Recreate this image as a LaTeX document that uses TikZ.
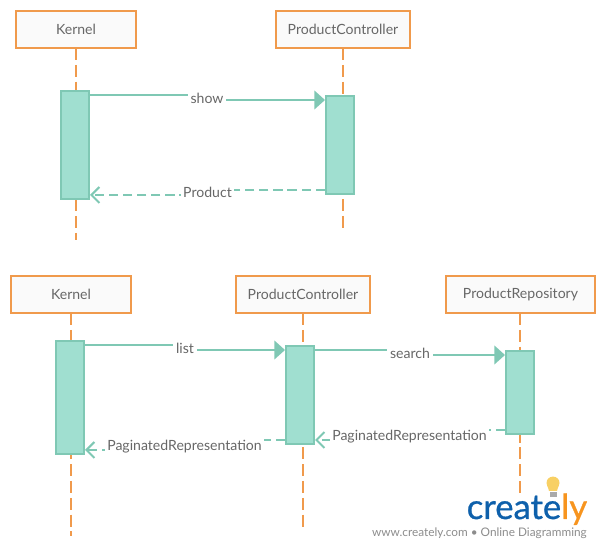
\documentclass[tikz,border=0pt]{standalone}
\usepackage{fontspec}
\setmainfont{Lato}
\newfontfamily\logofont[FakeBold=0.8]{Lato}
\usetikzlibrary{arrows.meta,backgrounds}
\definecolor{lifeorange}{RGB}{240,154,76}
\definecolor{barteal}{RGB}{160,223,208}
\definecolor{lineteal}{RGB}{127,200,180}
\definecolor{labelgray}{RGB}{103,103,103}
\definecolor{logoblue}{RGB}{14,96,171}
\definecolor{logoorange}{RGB}{247,148,30}
\tikzset{
  headbox/.style={draw=lifeorange,line width=1.5pt,fill={rgb,255:red,250;green,250;blue,250},text=labelgray,inner sep=0pt,font=\fontsize{10.55}{12}\selectfont},
  lifeline/.style={draw=lifeorange,line width=1.5pt,dash pattern=on 9pt off 3.6pt},
  activebar/.style={draw=lineteal,line width=1.5pt,fill=barteal},
  msgcall/.style={draw=lineteal,line width=1.5pt,-{Triangle[length=8pt,width=14pt]}},
  msgreturn/.style={draw=lineteal,line width=1.5pt,dash pattern=on 7pt off 3.6pt,-{Straight Barb[length=6pt,width=12pt]}},
  msglabel/.style={fill=white,text=labelgray,inner sep=2pt,font=\fontsize{10.55}{12}\selectfont},
}
\begin{document}
\begin{tikzpicture}[x=0.75pt,y=0.75pt,yscale=-1,xscale=1]
    \useasboundingbox (0,0) rectangle (601,549);

    % Top diagram lifelines
    \coordinate (kernelTopStart) at (75.5,48);
    \coordinate (kernelTopEnd) at (75.5,240);
    \coordinate (controllerTopStart) at (342.5,48);
    \coordinate (controllerTopEnd) at (342.5,228);
    \draw [lifeline] (kernelTopStart) -- (kernelTopEnd);
    \draw [lifeline] (controllerTopStart) -- (controllerTopEnd);

    % Head boxes
    \node (kernelTop) [headbox,minimum width=90pt,minimum height=27.75pt] at (76,29.5) {Kernel};
    \node (controllerTop) [headbox,minimum width=100.5pt,minimum height=27.75pt] at (343,29.5) {ProductController};

    % Activation bars
    \node (kernelTopBar) [activebar,inner sep=0pt,minimum width=21pt,minimum height=81pt] at (75,145) {};
    \node (controllerTopBar) [activebar,inner sep=0pt,minimum width=21pt,minimum height=73.5pt] at (340,145) {};

    % Message labels
    \node (showLabel) [msglabel] at (207,98) {show};
    \node (productLabel) [msglabel] at (207.5,192.5) {Product};
    \begin{scope}[on background layer]
      \draw [msgcall] (kernelTopBar.east |- 0,95) -| (showLabel.center) |- (controllerTopBar.west |- 0,100);
      \draw [msgreturn] (controllerTopBar.west |- 0,190) -| (productLabel.center) |- (kernelTopBar.east |- 0,195);
    \end{scope}

    % Bottom diagram lifelines
    \coordinate (kernelLowStart) at (71,313);
    \coordinate (kernelLowEnd) at (71,536);
    \coordinate (controllerLowStart) at (303,313);
    \coordinate (controllerLowEnd) at (303,527);
    \coordinate (repositoryLowStart) at (520,313);
    \coordinate (repositoryLowEnd) at (520,495);
    \draw [lifeline] (kernelLowStart) -- (kernelLowEnd);
    \draw [lifeline] (controllerLowStart) -- (controllerLowEnd);
    \draw [lifeline] (repositoryLowStart) -- (repositoryLowEnd);

    % Head boxes
    \node (kernelLow) [headbox,minimum width=90pt,minimum height=27.75pt] at (71,294.5) {Kernel};
    \node (controllerLow) [headbox,minimum width=100.5pt,minimum height=27.75pt] at (303,294.5) {ProductController};
    \node (repositoryLow) [headbox,minimum width=111.75pt,minimum height=27.75pt] at (520.5,294.5) {ProductRepository};

    % Activation bars
    \node (kernelLowBar) [activebar,inner sep=0pt,minimum width=21pt,minimum height=84.75pt] at (70,397.5) {};
    \node (controllerLowBar) [activebar,inner sep=0pt,minimum width=21pt,minimum height=73.5pt] at (300,395) {};
    \node (repositoryLowBar) [activebar,inner sep=0pt,minimum width=21pt,minimum height=62.25pt] at (520,392.5) {};

    % Message labels
    \node (listLabel) [msglabel] at (185,348) {list};
    \node (searchLabel) [msglabel] at (410,353) {search};
    \node (pageRepoLabel) [msglabel] at (409.5,437) {PaginatedRepresentation};
    \node (pageCtrlLabel) [msglabel] at (184.5,447) {PaginatedRepresentation};
    \begin{scope}[on background layer]
      \draw [msgcall] (kernelLowBar.east |- 0,345) -| (listLabel.center) |- (controllerLowBar.west |- 0,350);
      \draw [msgcall] (controllerLowBar.east |- 0,350) -| (searchLabel.center) |- (repositoryLowBar.west |- 0,355);
      \draw [msgreturn] (repositoryLowBar.west |- 0,430) -| (pageRepoLabel.center) |- (controllerLowBar.east |- 0,440);
      \draw [msgreturn] (controllerLowBar.west |- 0,440) -| (pageCtrlLabel.center) |- (kernelLowBar.east |- 0,450);
    \end{scope}

    % Logo
    \fill [fill={rgb,255:red,248;green,208;blue,100}] (549,491) .. controls (548,486) and (546.5,486) .. (546.5,483) .. controls (546.5,474.5) and (559.5,474.5) .. (559.5,483) .. controls (559.5,486) and (558,486) .. (557,491) -- cycle;
    \fill [fill={rgb,255:red,170;green,170;blue,170}] (549.5,492) rectangle (556.5,497);
    \node (logoText) [inner sep=0pt,anchor=base west,font=\logofont\fontsize{26}{30}\selectfont] at (466.5,519) {\textcolor{logoblue}{create}\textcolor{logoorange}{ly}};
    \node (logoCaption) [inner sep=0pt,anchor=base east,text={rgb,255:red,140;green,140;blue,140},font=\fontsize{8.85}{11}\selectfont] at (587,537) {www.creately.com • Online Diagramming};
\end{tikzpicture}
\end{document}
